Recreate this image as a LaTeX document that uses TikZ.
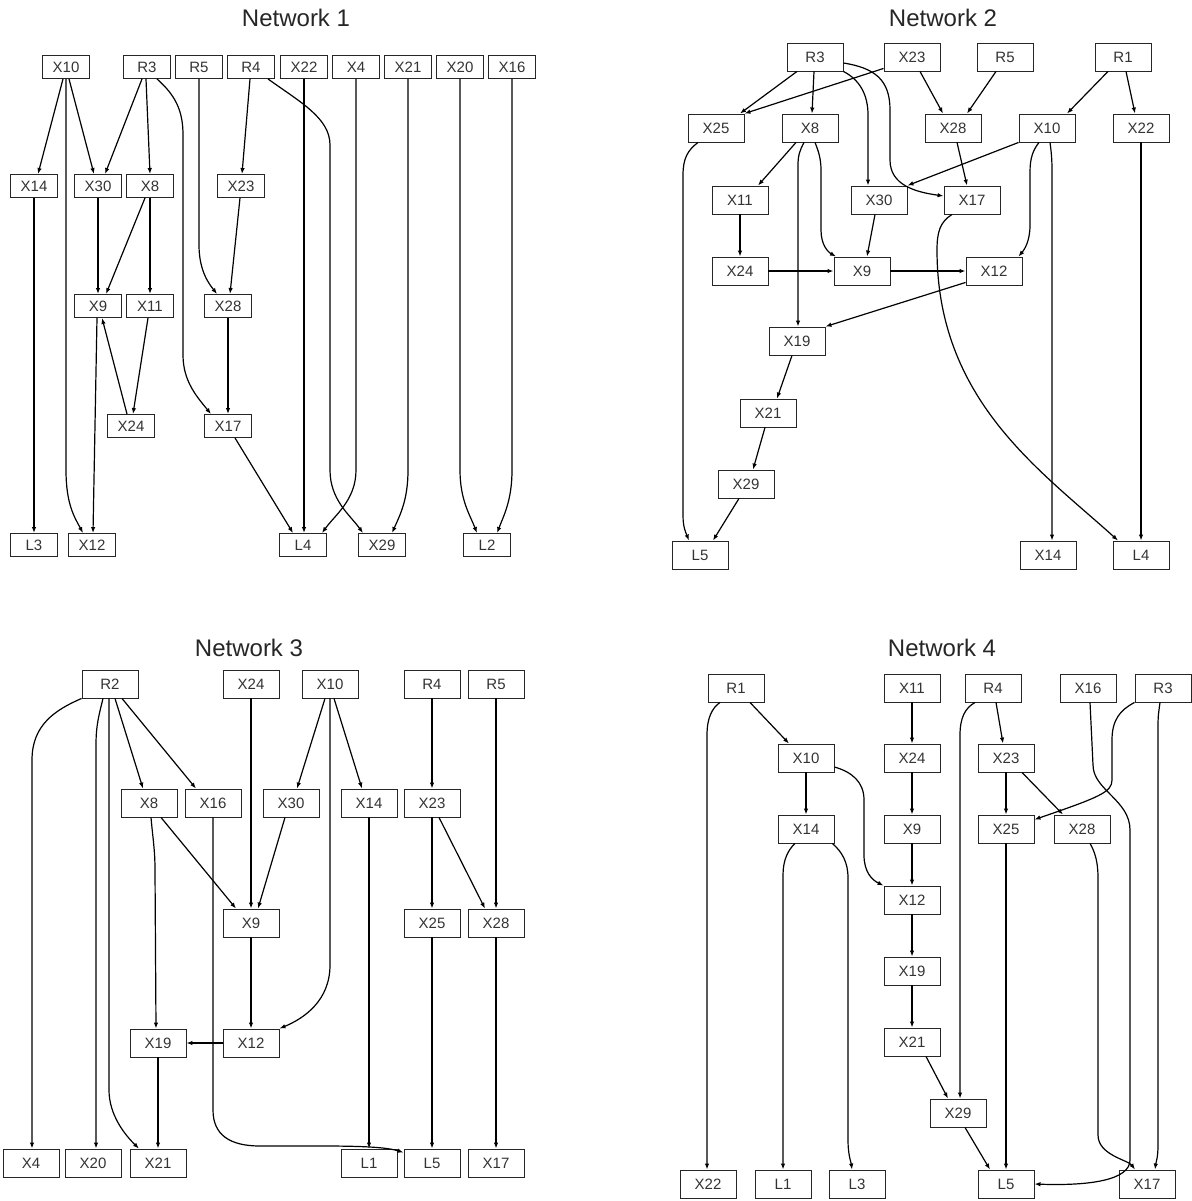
\documentclass[tikz,border=0pt]{standalone}
\usepackage{fontspec}
\setmainfont{Liberation Sans}
\usetikzlibrary{arrows.meta}
\begin{document}
\begin{tikzpicture}[x=1pt,y=-1pt,
  box/.style={draw=black!85, line width=0.9pt, inner sep=0pt, text=black!80, font=\fontsize{15}{18}\selectfont},
  sbox/.style={box, minimum width=47pt, minimum height=23pt},
  lbox/.style={box, minimum width=56pt, minimum height=28pt},
  edg/.style={draw=black, line width=1.2pt, -{Latex[length=6pt,width=4.5pt]}},
  ttl/.style={font=\fontsize{24}{28}\selectfont, text=black!85}]
\useasboundingbox (0,0) rectangle (1191,1201);
% titles
\node[ttl] (t1) at (296,18) {Network 1};
\node[ttl] (t2) at (943,18) {Network 2};
\node[ttl] (t3) at (249,648) {Network 3};
\node[ttl] (t4) at (942,648) {Network 4};
% ================= Network 1
\node[sbox] (aX10) at (66,67) {X10};
\node[sbox] (aR3) at (147,67) {R3};
\node[sbox] (aR5) at (199,67) {R5};
\node[sbox] (aR4) at (251,67) {R4};
\node[sbox] (aX22) at (304,67) {X22};
\node[sbox] (aX4) at (356,67) {X4};
\node[sbox] (aX21) at (408,67) {X21};
\node[sbox] (aX20) at (460,67) {X20};
\node[sbox] (aX16) at (512,67) {X16};
\node[sbox] (aX14) at (34,186) {X14};
\node[sbox] (aX30) at (98,186) {X30};
\node[sbox] (aX8) at (150,186) {X8};
\node[sbox] (aX23) at (241,186) {X23};
\node[sbox] (aX9) at (98,306) {X9};
\node[sbox] (aX11) at (150,306) {X11};
\node[sbox] (aX28) at (228,306) {X28};
\node[sbox] (aX24) at (131,426) {X24};
\node[sbox] (aX17) at (228,426) {X17};
\node[sbox] (aL3) at (34,545) {L3};
\node[sbox] (aX12) at (92,545) {X12};
\node[sbox] (aL4) at (303,545) {L4};
\node[sbox] (aX29) at (382,545) {X29};
\node[sbox] (aL2) at (487,545) {L2};

\draw[edg] ([xshift=-3pt]aX10.south) -- ([xshift=4pt]aX14.north);
\draw[edg] ([xshift=3pt]aX10.south) -- ([xshift=-4pt]aX30.north);
\draw[edg] (aX10.south) -- (66,470) .. controls (66,505) and (75,518) .. ([xshift=-9pt]aX12.north);
\draw[edg] ([xshift=-5pt]aR3.south) -- ([xshift=7pt]aX30.north);
\draw[edg] ([xshift=-1pt]aR3.south) -- (aX8.north);
\draw[edg] ([xshift=10pt]aR3.south) .. controls (175,95) and (183,110) .. (183,135) -- (183,355) .. controls (183,382) and (198,398) .. ([xshift=-17pt]aX17.north);
\draw[edg] (aR5.south) -- (199,245) .. controls (199,272) and (210,285) .. ([xshift=-11pt]aX28.north);
\draw[edg] ([xshift=-1pt]aR4.south) -- ([xshift=1pt]aX23.north);
\draw[edg] ([xshift=17pt]aR4.south) .. controls (300,102) and (330,118) .. (330,145) -- (330,470) .. controls (330,500) and (350,515) .. ([xshift=-19pt]aX29.north);
\draw[edg] (aX22.south) -- ([xshift=1pt]aL4.north);
\draw[edg] (aX4.south) -- (356,470) .. controls (356,500) and (335,515) .. ([xshift=19pt]aL4.north);
\draw[edg] (aX21.south) -- (408,470) .. controls (408,500) and (400,515) .. ([xshift=10pt]aX29.north);
\draw[edg] (aX20.south) -- (460,470) .. controls (460,500) and (470,515) .. ([xshift=-10pt]aL2.north);
\draw[edg] (aX16.south) -- (512,470) .. controls (512,500) and (504,515) .. ([xshift=10pt]aL2.north);
\draw[edg] (aX14.south) -- (aL3.north);
\draw[edg] (aX30.south) -- (aX9.north);
\draw[edg] ([xshift=-5pt]aX8.south) -- ([xshift=8pt]aX9.north);
\draw[edg] (aX8.south) -- (aX11.north);
\draw[edg] ([xshift=-1pt]aX23.south) -- ([xshift=2pt]aX28.north);
\draw[edg] ([xshift=-1pt]aX9.south) -- ([xshift=1pt]aX12.north);
\draw[edg] ([xshift=-2pt]aX11.south) -- ([xshift=2pt]aX24.north);
\draw[edg] ([xshift=-4pt]aX24.north) -- ([xshift=4pt]aX9.south);
\draw[edg] (aX28.south) -- (aX17.north);
\draw[edg] ([xshift=7pt]aX17.south) -- ([xshift=-10pt]aL4.north);
% ================= Network 2
\node[lbox] (bR3) at (815,57) {R3};
\node[lbox] (bX23) at (912,57) {X23};
\node[lbox] (bR5) at (1005,57) {R5};
\node[lbox] (bR1) at (1123,57) {R1};
\node[lbox] (bX25) at (716,128) {X25};
\node[lbox] (bX8) at (810,128) {X8};
\node[lbox] (bX28) at (953,128) {X28};
\node[lbox] (bX10) at (1047,128) {X10};
\node[lbox] (bX22) at (1141,128) {X22};
\node[lbox] (bX11) at (740,200) {X11};
\node[lbox] (bX30) at (879,200) {X30};
\node[lbox] (bX17) at (972,200) {X17};
\node[lbox] (bX24) at (740,271) {X24};
\node[lbox] (bX9) at (862,271) {X9};
\node[lbox] (bX12) at (994,271) {X12};
\node[lbox] (bX19) at (797,341) {X19};
\node[lbox] (bX21) at (768,413) {X21};
\node[lbox] (bX29) at (746,484) {X29};
\node[lbox] (bL5) at (700,555) {L5};
\node[lbox] (bX14) at (1048,555) {X14};
\node[lbox] (bL4) at (1141,555) {L4};

\draw[edg] ([xshift=-18pt]bR3.south) -- ([xshift=24pt]bX25.north);
\draw[edg] ([xshift=-1pt]bR3.south) -- ([xshift=2pt]bX8.north);
\draw[edg] (bR3.south east) .. controls (860,80) and (868,95) .. (868,115) -- ([xshift=-11pt]bX30.north);
\draw[edg] ([yshift=-6pt]bR3.east) .. controls (875,68) and (890,80) .. (890,110) -- (890,160) .. controls (890,185) and (915,192) .. ([yshift=4pt]bX17.west);
\draw[edg] ([yshift=3pt]bX23.south west) -- (bX25.north east);
\draw[edg] ([xshift=8pt]bX23.south) -- ([xshift=-10pt]bX28.north);
\draw[edg] ([xshift=-9pt]bR5.south) -- ([xshift=14pt]bX28.north);
\draw[edg] ([xshift=-15pt]bR1.south) -- ([xshift=20pt]bX10.north);
\draw[edg] ([xshift=3pt]bR1.south) -- ([xshift=-6pt]bX22.north);
\draw[edg] ([xshift=-18pt]bX25.south) .. controls (688,150) and (683,158) .. (683,175) -- (683,515) .. controls (683,528) and (686,533) .. ([xshift=-11pt]bL5.north);
\draw[edg] ([xshift=-14pt]bX8.south) -- ([xshift=18pt]bX11.north);
\draw[edg] ([xshift=-6pt]bX8.south) .. controls (800,150) and (798,155) .. (798,165) -- ([xshift=1pt]bX19.north);
\draw[edg] ([xshift=5pt]bX8.south) .. controls (818,150) and (821,158) .. (821,170) -- (821,230) .. controls (821,245) and (828,252) .. ([xshift=-26pt]bX9.north);
\draw[edg] ([xshift=4pt]bX28.south) -- ([xshift=-5pt]bX17.north);
\draw[edg] (bX10.south west) -- (bX30.north east);
\draw[edg] ([xshift=-8pt]bX10.south) .. controls (1033,150) and (1030,158) .. (1030,172) -- (1030,225) .. controls (1030,242) and (1024,250) .. ([xshift=-4pt]bX12.north east);
\draw[edg] ([xshift=3pt]bX10.south) .. controls (1051,150) and (1052,158) .. (1052,170) -- ([xshift=4pt]bX14.north);
\draw[edg] (bX22.south) -- (bL4.north);
\draw[edg] (bX11.south) -- (bX24.north);
\draw[edg] ([xshift=-4pt]bX30.south) -- ([xshift=5pt]bX9.north);
\draw[edg] (bX24.east) -- (bX9.west);
\draw[edg] (bX9.east) -- (bX12.west);
\draw[edg] ([xshift=-20pt]bX17.south) .. controls (940,222) and (937,232) .. (937,250) .. controls (937,400) and (1040,470) .. ([xshift=-23pt]bL4.north);
\draw[edg] ([yshift=3pt]bX12.south west) -- (bX19.north east);
\draw[edg] ([xshift=-5pt]bX19.south) -- ([xshift=9pt]bX21.north);
\draw[edg] ([xshift=-3pt]bX21.south) -- ([xshift=7pt]bX29.north);
\draw[edg] ([xshift=-7pt]bX29.south) -- ([xshift=13pt]bL5.north);
% ================= Network 3
\node[lbox] (cR2) at (110,684) {R2};
\node[lbox] (cX24) at (251,684) {X24};
\node[lbox] (cX10) at (330,684) {X10};
\node[lbox] (cR4) at (432,684) {R4};
\node[lbox] (cR5) at (496,684) {R5};
\node[lbox] (cX8) at (149,803) {X8};
\node[lbox] (cX16) at (213,803) {X16};
\node[lbox] (cX30) at (291,803) {X30};
\node[lbox] (cX14) at (369,803) {X14};
\node[lbox] (cX23) at (432,803) {X23};
\node[lbox] (cX9) at (251,923) {X9};
\node[lbox] (cX25) at (432,923) {X25};
\node[lbox] (cX28) at (496,923) {X28};
\node[lbox] (cX19) at (158,1043) {X19};
\node[lbox] (cX12) at (251,1043) {X12};
\node[lbox] (cX4) at (31,1163) {X4};
\node[lbox] (cX20) at (93,1163) {X20};
\node[lbox] (cX21) at (158,1163) {X21};
\node[lbox] (cL1) at (369,1163) {L1};
\node[lbox] (cL5) at (432,1163) {L5};
\node[lbox] (cX17) at (496,1163) {X17};

\draw[edg] (cR2.south west) .. controls (55,710) and (32,725) .. (32,760) -- ([xshift=1pt]cX4.north);
\draw[edg] ([xshift=-7pt]cR2.south) .. controls (99,715) and (96,725) .. (96,745) -- ([xshift=3pt]cX20.north);
\draw[edg] ([xshift=-1pt]cR2.south) -- (109,1090) .. controls (109,1115) and (125,1135) .. ([xshift=-19pt]cX21.north);
\draw[edg] ([xshift=5pt]cR2.south) -- ([xshift=-6pt]cX8.north);
\draw[edg] ([xshift=12pt]cR2.south) -- ([xshift=-17pt]cX16.north);
\draw[edg] (cX24.south) -- (cX9.north);
\draw[edg] ([xshift=-5pt]cX10.south) -- ([xshift=6pt]cX30.north);
\draw[edg] ([xshift=4pt]cX10.south) -- ([xshift=-7pt]cX14.north);
\draw[edg] (cX10.south) -- (330,965) .. controls (330,1000) and (305,1018) .. (cX12.north east);
\draw[edg] (cR4.south) -- (cX23.north);
\draw[edg] (cR5.south) -- (cX28.north);
\draw[edg] ([xshift=2pt]cX8.south) .. controls (153,840) and (155,850) .. (155,870) -- ([xshift=-2pt]cX19.north);
\draw[edg] ([xshift=12pt]cX8.south) -- ([xshift=-15pt]cX9.north);
\draw[edg] (cX16.south) -- (213,1110) .. controls (213,1135) and (230,1146) .. (260,1146) .. controls (330,1146) and (380,1145) .. ([yshift=-4pt]cL5.north west);
\draw[edg] ([xshift=-6pt]cX30.south) -- ([xshift=7pt]cX9.north);
\draw[edg] (cX14.south) -- (cL1.north);
\draw[edg] (cX9.south) -- (cX12.north);
\draw[edg] (cX12.west) -- (cX19.east);
\draw[edg] (cX19.south) -- (cX21.north);
\draw[edg] (cX23.south) -- (cX25.north);
\draw[edg] ([xshift=7pt]cX23.south) -- ([xshift=-11pt]cX28.north);
\draw[edg] (cX25.south) -- (cL5.north);
\draw[edg] (cX28.south) -- (cX17.north);
% ================= Network 4
\node[lbox] (dR1) at (736,688) {R1};
\node[lbox] (dX11) at (912,688) {X11};
\node[lbox] (dR4) at (993,688) {R4};
\node[lbox] (dX16) at (1088,688) {X16};
\node[lbox] (dR3) at (1163,688) {R3};
\node[lbox] (dX10) at (806,758) {X10};
\node[lbox] (dX24) at (912,758) {X24};
\node[lbox] (dX23) at (1006,758) {X23};
\node[lbox] (dX14) at (806,829) {X14};
\node[lbox] (dX9) at (912,829) {X9};
\node[lbox] (dX25) at (1006,829) {X25};
\node[lbox] (dX28) at (1082,829) {X28};
\node[lbox] (dX12) at (912,900) {X12};
\node[lbox] (dX19) at (912,971) {X19};
\node[lbox] (dX21) at (912,1042) {X21};
\node[lbox] (dX29) at (958,1113) {X29};
\node[lbox] (dX22) at (708,1184) {X22};
\node[lbox] (dL1) at (783,1184) {L1};
\node[lbox] (dL3) at (857,1184) {L3};
\node[lbox] (dL5) at (1006,1184) {L5};
\node[lbox] (dX17) at (1147,1184) {X17};

\draw[edg] ([xshift=-16pt]dR1.south) .. controls (712,708) and (707,718) .. (707,735) -- ([xshift=-1pt]dX22.north);
\draw[edg] ([xshift=14pt]dR1.south) -- ([xshift=-17pt]dX10.north);
\draw[edg] (dX10.south) -- (dX14.north);
\draw[edg] ([yshift=-9pt]dX10.east) .. controls (852,772) and (864,782) .. (864,800) -- (864,855) .. controls (864,872) and (872,880) .. (dX12.north west);
\draw[edg] ([xshift=-11pt]dX14.south) .. controls (788,850) and (783,860) .. (783,875) -- (dL1.north);
\draw[edg] ([xshift=-2pt]dX14.south east) .. controls (842,852) and (848,862) .. (848,878) -- (848,1140) .. controls (848,1155) and (851,1162) .. ([xshift=-5pt]dL3.north);
\draw[edg] (dX11.south) -- (dX24.north);
\draw[edg] (dX24.south) -- (dX9.north);
\draw[edg] (dX9.south) -- (dX12.north);
\draw[edg] (dX12.south) -- (dX19.north);
\draw[edg] (dX19.south) -- (dX21.north);
\draw[edg] ([xshift=14pt]dX21.south) -- ([xshift=-10pt]dX29.north);
\draw[edg] ([xshift=-18pt]dR4.south) .. controls (965,708) and (960,718) .. (960,735) -- ([xshift=2pt]dX29.north);
\draw[edg] ([xshift=3pt]dR4.south) -- ([xshift=-3pt]dX23.north);
\draw[edg] (dX23.south) -- (dX25.north);
\draw[edg] ([xshift=16pt]dX23.south) -- ([xshift=-19pt]dX28.north);
\draw[edg] (dR3.south west) .. controls (1120,710) and (1112,720) .. (1112,740) -- (1112,780) .. controls (1112,792) and (1100,797) .. ([yshift=-5pt]dX25.north east);
\draw[edg] ([xshift=-3pt]dR3.south) .. controls (1159,710) and (1158,715) .. (1158,725) -- (1158,1145) .. controls (1158,1158) and (1156,1162) .. ([xshift=8pt]dX17.north);
\draw[edg] ([xshift=2pt]dX16.south) -- (1093,765) .. controls (1093,790) and (1130,800) .. (1130,830) -- (1130,1160) .. controls (1130,1180) and (1090,1186) .. (dL5.east);
\draw[edg] (dX25.south) -- (dL5.north);
\draw[edg] ([xshift=7pt]dX29.south) -- ([xshift=-16pt]dL5.north);
\draw[edg] ([xshift=8pt]dX28.south) .. controls (1095,852) and (1098,862) .. (1098,878) -- (1098,1135) .. controls (1098,1155) and (1128,1160) .. ([xshift=-12pt]dX17.north);
\end{tikzpicture}
\end{document}
